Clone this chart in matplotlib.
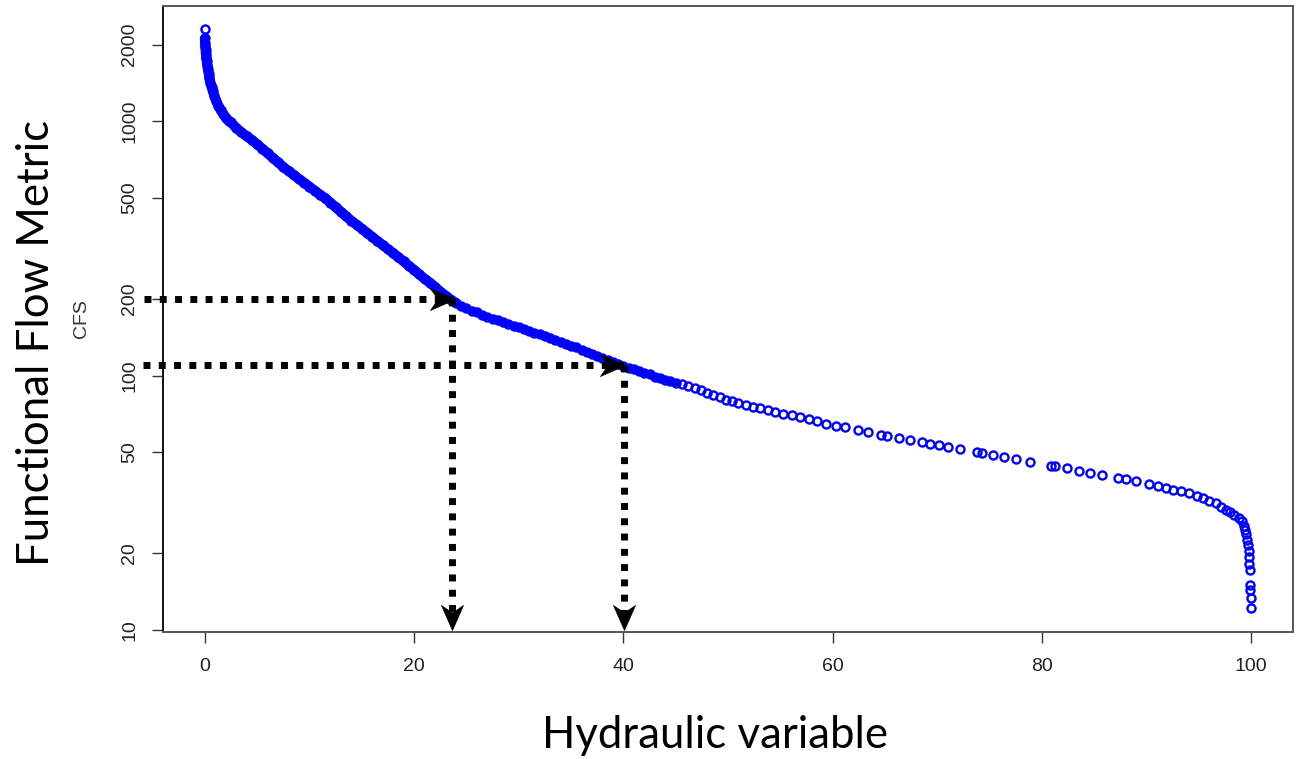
import numpy as np
import matplotlib
matplotlib.use("Agg")
import matplotlib.pyplot as plt
from matplotlib.path import Path
from matplotlib.ticker import NullLocator

# ---------------- data ----------------
steep_x = [0.00, 0.00, 0.02, 0.04, 0.07, 0.10, 0.14, 0.18, 0.23, 0.29, 0.36, 0.44,
           0.53, 0.64, 0.77, 0.92, 1.10, 1.30, 1.52, 1.77, 2.03, 2.30]
steep_cfs = [2300, 2120, 2040, 1970, 1900, 1840, 1780, 1720, 1660, 1600, 1540, 1480,
             1420, 1365, 1310, 1255, 1200, 1150, 1105, 1065, 1030, 1000]

dense_x = [2.5, 3.0, 3.5, 4.0, 4.5, 5.0, 5.5, 6.0, 6.5, 7.0, 7.5, 8.0, 8.5, 9.0, 9.5,
           10.0, 10.5, 11.0, 11.5, 12.0, 12.5, 13.0, 13.5, 14.0, 14.5, 15.0, 15.5,
           16.0, 16.5, 17.0, 17.5, 18.0, 18.5, 19.0, 19.5, 20.0, 20.5, 21.0, 21.5,
           22.0, 22.5, 23.0, 23.5, 24.0]
dense_cfs = [989, 942, 904, 873, 843, 811, 780, 748, 718, 689, 661, 637, 615, 593, 573,
             553, 533, 515, 498, 479, 459, 441, 423, 406, 392, 378, 364,
             351, 338, 326, 314, 303, 292, 281, 270, 260, 250, 240, 232,
             223, 214, 206, 199, 193]

mid_x = [24.5, 25.0, 25.5, 26.0, 26.5, 27.0, 27.5, 28.0, 28.5, 29.0, 29.5, 30.0,
         30.5, 31.0, 31.5, 32.0, 32.5, 33.0, 33.5, 34.0, 34.5, 35.0, 35.5, 36.0,
         36.5, 37.0, 37.5, 38.0, 38.5, 39.0, 39.5, 40.0, 40.5, 41.0, 41.5, 42.0,
         42.5, 43.0, 43.5, 44.0, 44.5, 45.0]
mid_cfs = [188, 184, 180, 177, 173, 170, 167, 165, 162, 160, 157, 155,
           152, 150, 147, 145, 143, 140, 138, 136, 133, 131, 129, 126,
           124, 122, 119, 117, 115, 113, 111, 109, 107, 106, 104, 102,
           101, 99, 97.5, 96, 95, 93.5]

sparse_x = [45.6, 46.2, 46.8, 47.4, 48.0, 48.6, 49.2, 49.8, 50.4, 51.0, 51.7, 52.4,
            53.1, 53.8, 54.5, 55.3, 56.1, 56.9, 57.7, 58.5, 59.4, 60.3, 61.2, 62.4,
            63.4, 64.6, 65.2, 66.3, 67.4, 68.5, 69.3, 70.2, 71.0, 72.2, 73.8, 74.3,
            75.3, 76.4, 77.5, 78.9, 80.9, 81.3, 82.4, 83.5, 84.6, 85.7, 87.3, 88.0,
            89.0, 90.2, 91.1, 91.9, 92.5, 93.3, 94.1, 94.8, 95.4, 96.0, 96.6, 97.1,
            97.6, 98.0, 98.4, 98.8, 99.1, 99.3, 99.45, 99.55, 99.65, 99.7, 99.75,
            99.8, 99.82, 99.85, 99.9, 99.92, 99.95, 99.98]
sparse_cfs = [92.9, 91.2, 89.3, 87.5, 85.5, 83.8, 82.0, 80.4, 79.1, 78.0, 76.7, 75.5,
              74.3, 73.1, 71.9, 70.8, 69.7, 68.5, 67.3, 66.1, 64.7, 63.5, 62.5, 61.1,
              60.0, 58.6, 58.0, 56.9, 55.7, 54.7, 54.0, 53.2, 52.5, 51.4, 50.0, 49.5,
              48.8, 47.9, 46.9, 45.7, 44.2, 43.9, 43.1, 42.3, 41.5, 40.7, 39.6, 39.1,
              38.4, 37.5, 36.8, 36.1, 35.6, 35.1, 34.4, 33.7, 33.0, 32.2, 31.4, 30.5,
              29.7, 29.0, 28.4, 27.5, 26.7, 25.7, 24.7, 23.7, 22.6, 21.6, 20.4,
              19.3, 18.2, 17.2, 15.0, 14.3, 13.3, 12.2]

y_ticks = [10, 20, 50, 100, 200, 500, 1000, 2000]
y_tick_labels = ["10", "20", "50", "100", "200", "500", "1000", "2000"]
x_ticks = [0, 20, 40, 60, 80, 100]
x_tick_labels = ["0", "20", "40", "60", "80", "100"]

# lookup guides: (hydraulic variable, flow metric)
guide_x = [23.6, 40.1]
guide_cfs = [200, 110]

# ---------------- figure ----------------
fig = plt.figure(figsize=(13.02, 7.59), dpi=100)
W, H = 1302, 759
ax = fig.add_axes([163 / W, 1 - 632 / H, (1293 - 163) / W, (632 - 6) / H])
ax.set_yscale("log")
ax.set_xlim(-4, 104)
ax.set_ylim(9.8, 2840)

blue = "#0000FF"
all_x = steep_x + dense_x + mid_x + sparse_x
all_y = steep_cfs + dense_cfs + mid_cfs + sparse_cfs

# solid band where the points are packed tightly
band_x = steep_x[1:] + dense_x
band_y = steep_cfs[1:] + dense_cfs
ax.plot(band_x, band_y, color=blue, lw=7.2, solid_capstyle="round", zorder=2)
ax.plot([band_x[-1]] + mid_x, [band_y[-1]] + mid_cfs, color=blue, lw=5.0,
        solid_capstyle="round", zorder=2)
ax.plot(all_x, all_y, ls="none", marker="o", ms=5.8, mfc="none", mec=blue, mew=1.7,
        zorder=3)

# ticks / labels
tick_font = "Liberation Sans"
ax.set_yticks(y_ticks)
ax.set_yticklabels(y_tick_labels, rotation=90, va="center", fontfamily=tick_font,
                   fontsize=14, color="#222222")
ax.yaxis.set_minor_locator(NullLocator())
ax.set_xticks(x_ticks)
ax.set_xticklabels(x_tick_labels, fontfamily=tick_font, fontsize=14, color="#222222")
ax.tick_params(axis="both", direction="out", length=8, width=1.0, color="#333333")
ax.tick_params(axis="y", pad=10)
ax.tick_params(axis="x", pad=11)
for side, sp in ax.spines.items():
    sp.set_linewidth(1.4)
    sp.set_color("#555555" if side != "left" else "#111111")

ax.set_ylabel("CFS", fontfamily=tick_font, fontsize=14, color="#333333", labelpad=22)

# dotted guides with arrowheads
dot_style = dict(color="black", lw=5, ls=(0, (1.0, 1.2)), clip_on=False, zorder=5)
ax.plot([-5.8, guide_x[0]], [guide_cfs[0], guide_cfs[0]], **dot_style)
ax.plot([-5.9, guide_x[1]], [guide_cfs[1], guide_cfs[1]], **dot_style)
ax.plot([guide_x[0], guide_x[0]], [guide_cfs[0], 11.2], **dot_style)
ax.plot([guide_x[1], guide_x[1]], [guide_cfs[1], 11.2], **dot_style)

right_head = Path([(0, 0), (-1, 0.44), (-0.7, 0), (-1, -0.44), (0, 0)],
                  [Path.MOVETO, Path.LINETO, Path.LINETO, Path.LINETO, Path.CLOSEPOLY])
down_head = Path([(0, 0), (-0.44, 1), (0, 0.7), (0.44, 1), (0, 0)],
                 [Path.MOVETO, Path.LINETO, Path.LINETO, Path.LINETO, Path.CLOSEPOLY])
head_style = dict(ls="none", color="black", mec="black", mew=0.5, ms=36, clip_on=False,
                  zorder=6)
ax.plot([guide_x[0] + 0.3], [guide_cfs[0]], marker=right_head, **head_style)
ax.plot([guide_x[1] + 0.1], [guide_cfs[1]], marker=right_head, **head_style)
ax.plot(guide_x, [9.95, 9.95], marker=down_head, **head_style)

# outer titles
big_font = ["Lato", "DejaVu Sans"]
fig.text(37 / W, 1 - 343 / H, "Functional Flow Metric", rotation=90, ha="center",
         va="center", fontsize=31.5, fontfamily=big_font, color="black")
fig.text(715 / W, 1 - 735 / H, "Hydraulic variable", ha="center", va="center",
         fontsize=31.5, fontfamily=big_font, color="black")

fig.savefig("out.png", dpi=100)
